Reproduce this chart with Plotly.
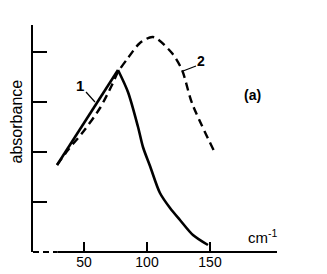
import plotly.graph_objects as go

# Curve 1 (solid)
x1 = [28.6, 77.0, 84.9, 92.9, 96.8, 102.4, 110.3, 118.3, 126.2, 136.5, 148.4]
y1 = [1.74, 3.64, 3.20, 2.50, 2.10, 1.72, 1.18, 0.88, 0.64, 0.34, 0.14]
# Curve 2 (dashed)
x2 = [28.6, 37.3, 49.2, 62.7, 72.2, 77.0, 84.9, 94.4, 104.8, 119.8, 127.8, 135.7, 153.6]
y2 = [1.74, 2.04, 2.40, 2.88, 3.34, 3.60, 3.88, 4.18, 4.30, 3.98, 3.64, 2.98, 2.00]

xticks = [50, 100, 150]
xticklabels = ["50", "100", "150"]
yticks = [1, 2, 3, 4]

FONT = "Liberation Sans, Arial, sans-serif"

fig = go.Figure()
# rising part of curve 1 is straight, falling part is smooth
fig.add_trace(go.Scatter(x=x1[:2], y=y1[:2], mode="lines",
                         line=dict(color="black", width=2.6, shape="linear"),
                         showlegend=False, hoverinfo="skip"))
fig.add_trace(go.Scatter(x=x1[1:], y=y1[1:], mode="lines",
                         line=dict(color="black", width=2.6, shape="spline", smoothing=0.8),
                         showlegend=False, hoverinfo="skip"))
fig.add_trace(go.Scatter(x=x2, y=y2, mode="lines",
                         line=dict(color="black", width=2.4, shape="spline", smoothing=0.8,
                                   dash="8px,5px"),
                         showlegend=False, hoverinfo="skip"))

# page body has an 8px margin, so the figure is sized to fit the window
fig.update_layout(
    width=319, height=266,
    margin=dict(l=25, r=50, t=17, b=22, autoexpand=False),
    paper_bgcolor="white", plot_bgcolor="white",
    font=dict(family=FONT, color="black", size=14),
    xaxis=dict(range=[9.52, 203.2], showgrid=False, zeroline=False, showline=False,
               tickvals=xticks, ticktext=xticklabels, ticks="inside", ticklen=10,
               tickwidth=1.5, tickcolor="black", tickfont=dict(size=14, family=FONT)),
    yaxis=dict(range=[0, 4.54], showgrid=False, zeroline=False, showline=True,
               linecolor="black", linewidth=2, tickvals=yticks, showticklabels=False,
               ticks="inside", ticklen=14, tickwidth=1.5, tickcolor="black"),
)

# x axis line: short dashed part then solid
fig.add_shape(type="line", xref="paper", yref="paper", x0=0, x1=0.1, y0=0, y1=0,
              line=dict(color="black", width=2, dash="6px,4px"))
fig.add_shape(type="line", xref="paper", yref="paper", x0=0.1, x1=1, y0=0, y1=0,
              line=dict(color="black", width=2))

# leader lines
fig.add_shape(type="line", x0=51.6, y0=3.2, x1=58.7, y1=3.0, line=dict(color="black", width=1.2))
fig.add_shape(type="line", x0=138.9, y0=3.72, x1=128.6, y1=3.62, line=dict(color="black", width=1.2))

fig.add_annotation(x=46.8, y=3.34, text="<b>1</b>", showarrow=False, font=dict(size=15, family=FONT))
fig.add_annotation(x=142.5, y=3.82, text="<b>2</b>", showarrow=False, font=dict(size=14, family=FONT))
fig.add_annotation(x=184, y=3.14, text="<b>(a)</b>", showarrow=False, font=dict(size=14, family=FONT))
fig.add_annotation(x=192, y=0.32, text="cm<sup>-1</sup>", showarrow=False, font=dict(size=15, family=FONT))
fig.add_annotation(xref="paper", yref="paper", x=-0.0676, y=0.573, text="absorbance",
                   xanchor="center", yanchor="middle",
                   textangle=-90, showarrow=False, font=dict(size=16, family=FONT))

fig.write_html("out.html")
